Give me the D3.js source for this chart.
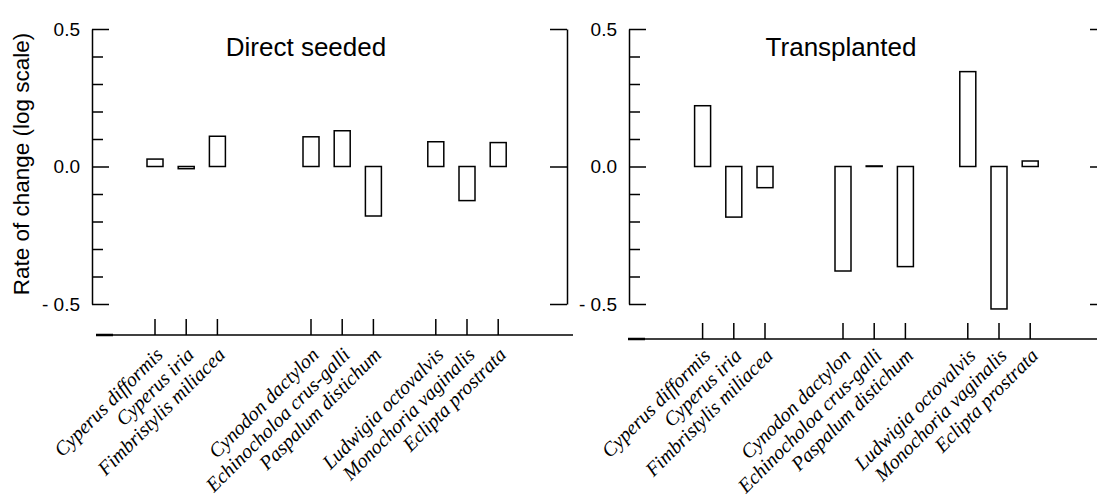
<!DOCTYPE html>
<html>
<head>
<meta charset="utf-8">
<script src="https://cdn.jsdelivr.net/npm/d3@7"></script>
<style>
  body { margin: 0; background: #fff; }
  svg { display: block; }
</style>
</head>
<body>
<svg id="chart"></svg>
<script>
// weed species, in the order they appear along the x axis
const species = [
    "Cyperus difformis", "Cyperus iria", "Fimbristylis miliacea",
    "Cynodon dactylon", "Echinocholoa crus-galli", "Paspalum distichum",
    "Ludwigia octovalvis", "Monochoria vaginalis", "Eclipta prostrata"
];

// rate of change (log scale)
const directSeeded = [0.027, -0.008, 0.11, 0.108, 0.13, -0.18, 0.09, -0.124, 0.087];
const transplanted = [0.221, -0.184, -0.077, -0.38, 0.002, -0.364, 0.345, -0.518, 0.02];

const majorTicks = [-0.5, 0, 0.5];
const minorTicks = [-0.4, -0.3, -0.2, -0.1, 0.1, 0.2, 0.3, 0.4];
const panelTitles = ["Direct seeded", "Transplanted"];

let svg = d3.select("#chart").attr("width", 1097).attr("height", 497);

svg.append("rect").attr("width", 1097).attr("height", 497).attr("fill", "#fff");

const y = d3.scaleLinear().domain([-0.5, 0.5]).range([304, 29]);

// layout of the two panels (pixels)
const layout = [
    { values: directSeeded, left: 92, right: 567, axisY: 335, axisStart: 96, axisEnd: 573,
      slots: [0, 1, 2, 5, 6, 7, 9, 10, 11], slot0: 155, titleX: 306 },
    { values: transplanted, left: 629, right: 1107, axisY: 339, axisStart: 628, axisEnd: 1097,
      slots: [0.5, 1.5, 2.5, 5, 6, 7, 9, 10, 11], slot0: 687, titleX: 841 }
];

const fmt = (d) => d < 0 ? "- " + d3.format(".1f")(-d) : d3.format(".1f")(d);

function drawPanel(p, i) {
    let g = svg.append("g")
        .attr("class", "panel")
        .style("font-family", "'Liberation Sans', Arial, sans-serif");

    let x = d3.scaleLinear().domain([0, 11]).range([p.slot0, p.slot0 + 11 * 31.2]);

    // left axis: minor ticks without labels, then major ticks with labels
    g.append("g")
        .attr("transform", `translate(${p.left},0)`)
        .call(d3.axisLeft(y).tickValues(minorTicks).tickSize(-11).tickFormat(""))
        .call((a) => a.select(".domain").remove());
    let yl = g.append("g")
        .attr("transform", `translate(${p.left},0)`)
        .call(d3.axisLeft(y).tickValues(majorTicks).tickSizeInner(-17).tickSizeOuter(0).tickPadding(12).tickFormat(fmt));
    yl.selectAll("text").style("font-size", "19px").style("font-family", "'Liberation Sans', Arial, sans-serif");

    // right axis: major ticks only
    g.append("g")
        .attr("transform", `translate(${p.right},0)`)
        .call(d3.axisRight(y).tickValues(majorTicks).tickSizeInner(-17).tickSizeOuter(0).tickFormat(""));

    g.selectAll(".domain, .tick line").attr("stroke", "#000").attr("stroke-width", 1.5);

    // x axis line with upward ticks
    let xa = g.append("g").attr("transform", `translate(0,${p.axisY})`);
    xa.append("line")
        .attr("x1", p.axisStart).attr("x2", p.axisEnd)
        .attr("stroke", "#000").attr("stroke-width", 1.5);
    xa.append("line")
        .attr("x1", p.axisStart).attr("x2", p.axisStart + 17)
        .attr("stroke", "#000").attr("stroke-width", 2.5);
    xa.selectAll(".xtick")
        .data(p.slots)
        .join("line")
        .attr("class", "xtick")
        .attr("x1", (d) => x(d)).attr("x2", (d) => x(d))
        .attr("y1", 0).attr("y2", -16)
        .attr("stroke", "#000").attr("stroke-width", 1.5);

    xa.selectAll(".xlab")
        .data(species)
        .join("text")
        .attr("class", "xlab")
        .attr("transform", (d, k) => `translate(${x(p.slots[k]) + 9},${21 - i * 3}) rotate(-45)`)
        .attr("text-anchor", "end")
        .style("font-family", "'Liberation Serif', 'Times New Roman', serif")
        .style("font-style", "italic")
        .style("font-size", "20px")
        .text((d) => d);

    // bars from zero
    const bw = 16;
    g.selectAll(".bar")
        .data(p.values)
        .join("rect")
        .attr("class", "bar")
        .attr("x", (d, k) => x(p.slots[k]) - bw / 2)
        .attr("y", (d) => y(Math.max(d, 0)))
        .attr("width", bw)
        .attr("height", (d) => Math.abs(y(d) - y(0)))
        .attr("fill", "none")
        .attr("stroke", "#000")
        .attr("stroke-width", 1.5);

    g.append("text")
        .attr("x", p.titleX)
        .attr("y", 56)
        .attr("text-anchor", "middle")
        .style("font-size", "26px")
        .text(panelTitles[i]);
}

layout.forEach(drawPanel);

svg.append("text")
    .attr("transform", "translate(29,164) rotate(-90)")
    .attr("text-anchor", "middle")
    .style("font-family", "'Liberation Sans', Arial, sans-serif")
    .style("font-size", "22.5px")
    .text("Rate of change (log scale)");
</script>
</body>
</html>
